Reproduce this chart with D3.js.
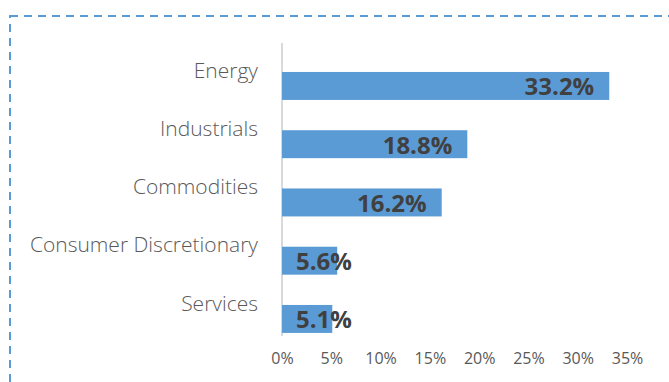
<!DOCTYPE html>
<html><head><meta charset="utf-8">
<script src="https://cdn.jsdelivr.net/npm/d3@7"></script>
<style>body{margin:0;background:#fff;}svg{display:block;}</style>
</head><body>
<svg id="c" width="669" height="382"></svg>
<script>
const categories = ["Energy","Industrials","Commodities","Consumer Discretionary","Services"];
const values = [33.2, 18.8, 16.2, 5.6, 5.1];
const tickValues = [0,5,10,15,20,25,30,35];

const svg = d3.select("#c");
svg.append("rect").attr("x",10).attr("y",16).attr("width",700).attr("height",400)
  .attr("fill","none").attr("stroke","#5b9bd5").attr("stroke-width",2).attr("stroke-dasharray","8,6");

const x = d3.scaleLinear().domain([0,35]).range([282,627]);
const y = d3.scaleBand().domain(categories).range([54.5,350.4]).paddingInner(0.52).paddingOuter(0.3);

svg.append("line").attr("x1",282).attr("x2",282).attr("y1",43).attr("y2",336)
  .attr("stroke","#d9d9d9").attr("stroke-width",2);

const xAxis = svg.append("g").attr("transform","translate(0,357)")
  .call(d3.axisBottom(x).tickValues(tickValues).tickFormat(d=>d+"%").tickSize(0));
xAxis.select(".domain").remove();
xAxis.selectAll("text").attr("dy",0).attr("dominant-baseline","middle")
  .attr("font-family","Open Sans").attr("font-weight",400).attr("font-size",16).attr("fill","#595959");

svg.selectAll(".bar").data(values).join("rect")
  .attr("x",x(0)).attr("y",(d,i)=>y(categories[i]))
  .attr("width",d=>x(d)-x(0)).attr("height",y.bandwidth()).attr("fill","#5b9bd5");

svg.selectAll(".cat").data(categories).join("text")
  .attr("x",258).attr("y",d=>y(d)).attr("text-anchor","end").attr("dominant-baseline","middle")
  .attr("font-family","Open Sans").attr("font-weight",300).attr("font-size",21).attr("fill","#595959")
  .text(d=>d);

const lbl = svg.selectAll(".lbl").data(values).join("text")
  .attr("y",(d,i)=>y(categories[i])+y.bandwidth()/2+3).attr("dominant-baseline","middle")
  .attr("font-family","Open Sans").attr("font-weight",700).attr("font-size",24).attr("fill","#404040")
  .text(d=>d.toFixed(1)+"%");
lbl.each(function(d){
  const w = this.getComputedTextLength();
  const xs = Math.max(x(0)+14, x(d)-15-w);
  d3.select(this).attr("x",xs);
});
</script>
</body></html>
